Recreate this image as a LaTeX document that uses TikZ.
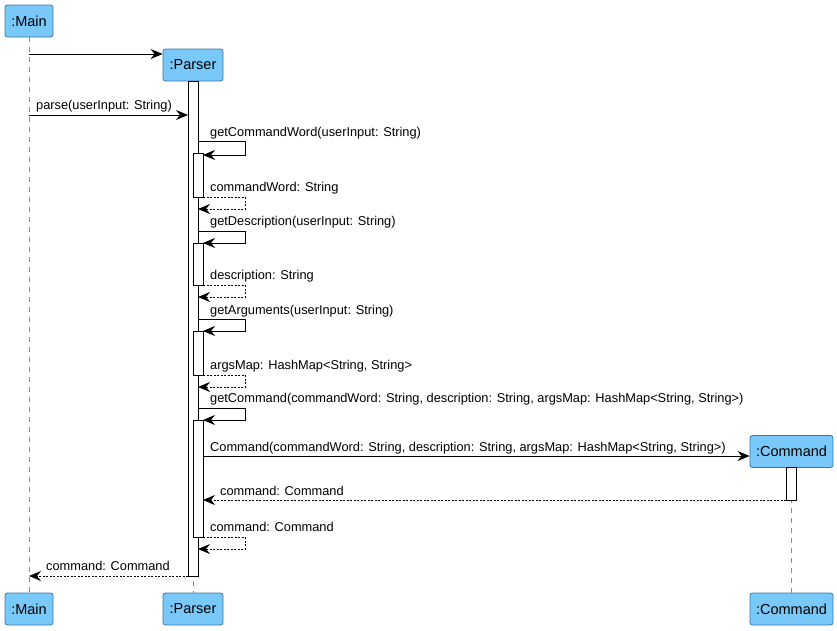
\documentclass[tikz,border=0pt]{standalone}
\usepackage{fontspec}
\setmainfont{Liberation Sans}
\usetikzlibrary{arrows.meta}
\definecolor{partfill}{RGB}{120,200,250}
\definecolor{partborder}{RGB}{58,118,160}
\definecolor{lifegray}{RGB}{140,140,140}
\begin{document}
\begin{tikzpicture}[x=1pt,y=-1pt,
  part/.style={draw=partborder, fill=partfill, rounded corners=2.5pt,
    minimum height=32pt, inner sep=0pt, line width=0.8pt,
    font=\fontsize{14.5}{16}\selectfont},
  life/.style={draw=lifegray, dash pattern=on 5pt off 5pt, line width=0.8pt},
  act/.style={draw=black, fill=white, line width=1pt},
  msg/.style={-{Stealth[length=12pt,width=10pt,inset=4pt]}, line width=0.9pt},
  ret/.style={msg, dash pattern=on 2pt off 1.5pt},
  lbl/.style={font=\fontsize{12.8}{15}\selectfont, anchor=base west, inner sep=0pt}]
\useasboundingbox (0,0) rectangle (837,630);

% participants (top and bottom)
\node[part, minimum width=48pt] (mainT) at (29,21) {:Main};
\node[part, minimum width=60pt] (parserT) at (193,65) {:Parser};
\node[part, minimum width=83pt] (cmdT) at (791.5,451.5) {:Command};
\node[part, minimum width=48pt] (mainB) at (29,609) {:Main};
\node[part, minimum width=60pt] (parserB) at (193,609) {:Parser};
\node[part, minimum width=83pt] (cmdB) at (791.5,609) {:Command};

% lifelines
\draw[life] (mainT.south) -- (mainB.north);
\draw[life] (parserT.south) -- (parserB.north);
\draw[life] (cmdT.south) -- (cmdB.north);

% activation bars
\draw[act] (188,81) rectangle (198,576);
\draw[act] (193,153) rectangle (203,197);
\draw[act] (193,243) rectangle (203,285);
\draw[act] (193,331) rectangle (203,375);
\draw[act] (193,420) rectangle (203,537);
\draw[act] (786,467.5) rectangle (796,500);

% message anchor points
\coordinate (m0s) at (29,54);
\coordinate (m0e) at (parserT.west |- m0s);
\coordinate (m1s) at (29,115);
\coordinate (m1e) at (188,115);
\coordinate (cAs) at (203,456);
\coordinate (cAe) at (cmdT.west |- cAs);
\coordinate (cRs) at (786,500);
\coordinate (cRe) at (203,500);
\coordinate (fRs) at (188,576);
\coordinate (fRe) at (29,576);

% creation of the parser and the parse call
\draw[msg] (m0s) -- (m0e);
\draw[msg] (m1s) -- (m1e);
\node[lbl] at (36,109) {parse(userInput: String)};

% self calls and their returns
\coordinate (a1) at (198,141); \coordinate (a2) at (203,155);
\draw[msg] (a1) -- (245,141) -- (245,155) -- (a2);
\node[lbl] at (210,136) {getCommandWord(userInput: String)};
\coordinate (b1) at (203,197); \coordinate (b2) at (198,209);
\draw[ret] (b1) -- (245,197) -- (245,209) -- (b2);
\node[lbl] at (210,191) {commandWord: String};

\coordinate (a3) at (198,231); \coordinate (a4) at (203,243);
\draw[msg] (a3) -- (245,231) -- (245,243) -- (a4);
\node[lbl] at (210,225) {getDescription(userInput: String)};
\coordinate (b3) at (203,285); \coordinate (b4) at (198,297);
\draw[ret] (b3) -- (245,285) -- (245,297) -- (b4);
\node[lbl] at (210,279) {description: String};

\coordinate (a5) at (198,319); \coordinate (a6) at (203,331);
\draw[msg] (a5) -- (245,319) -- (245,331) -- (a6);
\node[lbl] at (210,314) {getArguments(userInput: String)};
\coordinate (b5) at (203,375); \coordinate (b6) at (198,387);
\draw[ret] (b5) -- (245,375) -- (245,387) -- (b6);
\node[lbl] at (210,369) {argsMap: HashMap<String, String>};

\coordinate (a7) at (198,408); \coordinate (a8) at (203,420);
\draw[msg] (a7) -- (245,408) -- (245,420) -- (a8);
\node[lbl] at (210,402) {getCommand(commandWord: String, description: String, argsMap: HashMap<String, String>)};

% construction of the command
\draw[msg] (cAs) -- (cAe);
\node[lbl] at (210,451) {Command(commandWord: String, description: String, argsMap: HashMap<String, String>)};
\draw[ret] (cRs) -- (cRe);
\node[lbl] at (220,495) {command: Command};

\coordinate (b7) at (203,537); \coordinate (b8) at (198,549);
\draw[ret] (b7) -- (245,537) -- (245,549) -- (b8);
\node[lbl] at (210,531) {command: Command};

% final return to main
\draw[ret] (fRs) -- (fRe);
\node[lbl] at (46,570) {command: Command};
\end{tikzpicture}
\end{document}
